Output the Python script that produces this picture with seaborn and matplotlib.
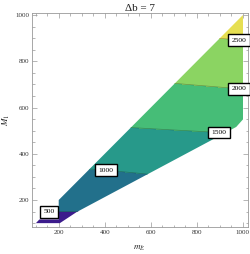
import numpy as np
import pandas as pd
import seaborn as sns
import matplotlib
matplotlib.use("Agg")
import matplotlib.pyplot as plt
from matplotlib.patches import Polygon
from matplotlib.ticker import MultipleLocator

# ---- data ----
mE_grid = [100, 400, 700, 1000]
M1_grid = [100, 300, 500, 700, 900, 1000]
z_M1_100 = [380, 360, 334, 298]
z_M1_300 = [866, 921, 997, 1061]
z_M1_500 = [1407, 1453, 1493, 1532]
z_M1_700 = [1873, 1927, 1988, 2052]
z_M1_900 = [2347, 2406, 2464, 2521]
z_M1_1000 = [2590, 2647, 2702, 2756]

levels = [0, 500, 1000, 1500, 2000, 2500, 3000]
label_levels = [500, 1000, 1500, 2000, 2500]

# boundary of the computed region (mE, M1)
region_mE = [101, 205, 278, 971, 1006, 1000, 200, 200, 116]
region_M1 = [100, 100, 148, 516, 555, 1000, 200, 116, 116]

band_colors = ['#3c1c8c', '#22708b', '#27998a', '#46bd77', '#8bd462', '#e6df52']

title = "Δb = 7"

# ---- style ----
sns.set_theme(style="ticks")
plt.rcParams['font.family'] = ['Liberation Serif', 'DejaVu Serif']
plt.rcParams['mathtext.fontset'] = 'stix'

fig = plt.figure(figsize=(2.50, 2.54), dpi=100)
ax = fig.add_axes([0.128, 0.106, 0.862, 0.843])

Z = pd.DataFrame([z_M1_100, z_M1_300, z_M1_500, z_M1_700, z_M1_900, z_M1_1000],
                 index=M1_grid, columns=mE_grid)
X, Y = np.meshgrid(Z.columns.values, Z.index.values)

palette = sns.color_palette(band_colors)
cf = ax.contourf(X, Y, Z.values, levels=levels, colors=palette)
cl = ax.contour(X, Y, Z.values, levels=label_levels, colors='k', linewidths=0.5, alpha=0.35)

clip = Polygon(np.column_stack([region_mE, region_M1]), closed=True,
               transform=ax.transData, facecolor='none', edgecolor='none')
ax.add_patch(clip)
cf.set_clip_path(clip)
cl.set_clip_path(clip)

texts = ax.clabel(cl, levels=label_levels, inline=False, fontsize=5.4, fmt='%d',
                  colors='k',
                  manual=[(158, 168), (405, 326), (897, 487), (990, 677), (990, 890)])
for t in texts:
    t.set_rotation(0)
    t.set_alpha(1.0)
    t.set_color('black')
    t.set_clip_on(False)
    t.set_bbox(dict(boxstyle='square,pad=0.45', facecolor='white',
                    edgecolor='black', linewidth=1.0))
    if t.get_text() in ('2000', '2500'):
        t.set_x(982)

ax.set_xlim(84, 1020)
ax.set_ylim(83, 1009)
ax.xaxis.set_major_locator(MultipleLocator(200))
ax.yaxis.set_major_locator(MultipleLocator(200))
ax.xaxis.set_minor_locator(MultipleLocator(50))
ax.yaxis.set_minor_locator(MultipleLocator(50))
ax.tick_params(which='both', direction='in', top=True, right=True,
               color='#999999', width=0.5, labelsize=5, pad=2, labelcolor='#333333')
ax.tick_params(which='major', length=3.5)
ax.tick_params(which='minor', length=1.8)
for s in ax.spines.values():
    s.set_color('#999999')
    s.set_linewidth(0.6)

ax.set_title(title, fontsize=8, pad=1.5)
ax.set_xlabel(r'$m_{\tilde{E}}$', fontsize=6.5, labelpad=6)
ax.set_ylabel(r'$M_1$', fontsize=6.5, labelpad=2)

fig.savefig("out.png", dpi=100)
